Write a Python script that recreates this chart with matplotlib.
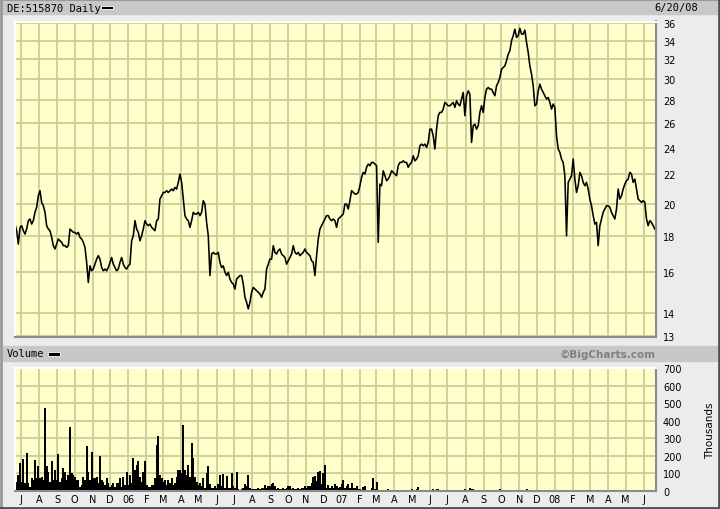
import numpy as np
import pandas as pd
import matplotlib
matplotlib.use('Agg')
import matplotlib.pyplot as plt
from matplotlib.patches import Rectangle
from matplotlib.lines import Line2D

# header info
symbol_text = 'DE:515870 Daily'
last_date = '6/20/08'
first_day = '2005-06-21'
last_day = '2008-06-20'

# closing prices, roughly every 3 calendar days
price_a = [18.71, 18.31, 17.53, 18.51, 18.61, 18.31, 18.11, 18.41, 18.92, 19.02,
           18.71, 18.92, 19.44, 19.76, 20.52, 20.86, 20.08, 19.86, 19.44, 18.61,
           18.41, 18.31, 17.92, 17.44, 17.25, 17.53, 17.82, 17.72, 17.63, 17.44,
           17.44, 17.34, 17.44, 18.41, 18.31, 18.21, 18.21, 18.11, 18.21, 17.92,
           17.82, 17.63, 17.34, 16.51, 15.47, 16.33, 16.07, 16.16, 16.42, 16.69,
           16.88, 16.69, 16.24, 16.07, 16.16, 16.07, 16.24, 16.51, 16.78, 16.42,
           16.24, 16.07, 16.16, 16.51, 16.78, 16.42, 16.24, 16.16, 16.33, 16.42,
           17.72, 18.01, 18.92, 18.41, 18.21, 17.72, 18.01, 18.41, 18.92, 18.71,
           18.61, 18.71, 18.51, 18.41, 18.31, 18.92, 19.02, 20.30, 20.52, 20.74,
           20.74, 20.86, 20.74, 20.86, 20.97, 20.86, 21.08, 20.97, 21.43, 22.02,
           21.43, 20.30, 19.23, 19.02, 18.92, 18.51, 18.92, 19.44, 19.33, 19.33,
           19.44, 19.23, 19.44, 20.19, 19.97, 18.81, 18.01, 15.82, 16.97, 17.06,
           16.97, 16.97, 17.06, 16.51, 16.24, 16.33, 15.99, 15.82, 15.99, 15.64,
           15.47, 15.39, 15.14, 15.64, 15.73]
price_b = [15.82, 15.82, 15.39, 14.74, 14.50, 14.19, 14.50, 14.98, 15.22, 15.14,
           15.06, 14.98, 14.90, 14.74, 14.98, 15.14, 16.16, 16.42, 16.69, 16.69,
           17.44, 17.06, 16.97, 17.16, 17.25, 16.97, 16.88, 16.78, 16.42, 16.60,
           16.78, 16.97, 17.44, 17.06, 16.97, 17.06, 16.88, 16.97, 17.06, 17.25,
           17.06, 16.97, 16.88, 16.60, 16.51, 15.82, 16.88, 17.82, 18.41, 18.61,
           18.81, 19.02, 19.23, 19.23, 19.02, 18.92, 19.02, 18.92, 18.51, 19.02,
           19.12, 19.23, 19.33, 19.97, 19.97, 19.65, 20.19, 20.86, 20.74, 20.63,
           20.63, 20.74, 21.20, 21.78, 22.14, 22.02, 22.51, 22.75, 22.63, 22.87,
           22.87, 22.75, 22.63, 17.63, 21.31, 21.20, 22.26, 21.90, 21.55, 21.66,
           21.90, 22.26, 22.14, 22.02, 21.90, 22.63]
price_c = [22.87, 22.87, 22.99, 22.87, 22.87, 22.51, 22.75, 22.87, 23.37, 22.99,
           23.12, 23.37, 24.15, 24.28, 24.15, 24.28, 24.02, 24.41, 25.49, 25.49,
           24.94, 23.89, 25.49, 26.63, 26.92, 26.92, 27.21, 27.81, 27.66, 27.51,
           27.51, 27.66, 27.81, 27.36, 27.96, 27.66, 27.51, 28.11, 28.73, 26.63,
           28.42, 28.88, 28.57, 24.41, 25.77, 25.91, 25.49, 25.77, 26.92, 27.51,
           26.92, 28.26, 29.04, 29.20, 29.04, 29.04, 28.73, 28.42, 29.36, 29.68,
           30.16, 30.99, 31.16, 31.33, 31.85, 32.55, 32.91, 34.00, 34.56, 35.30,
           34.37, 34.56, 35.40, 34.74, 34.74, 35.20, 33.82, 32.73, 31.33, 30.49,
           29.36, 27.51, 27.66, 28.88, 29.52, 29.04, 28.73, 28.42, 28.11, 28.26,
           27.81, 27.21, 27.66, 27.36, 24.94, 23.89]
price_d = [23.63, 23.12, 22.87, 21.90, 18.01, 21.43, 21.66, 21.90, 23.12, 21.66,
           20.74, 21.20, 22.14, 21.90, 21.43, 21.20, 21.43, 20.97, 20.30, 19.86,
           19.23, 18.71, 18.81, 17.44, 18.61, 19.02, 19.44, 19.65, 19.86, 19.86,
           19.76, 19.44, 19.23, 19.02, 19.65, 20.97, 20.30, 20.52, 20.97, 21.31,
           21.55, 21.66, 22.14, 22.02, 21.43, 21.66, 20.97, 20.30, 20.19, 20.08,
           20.19, 20.08, 19.02, 18.61, 18.92, 18.81, 18.61, 18.41]

# volume in thousands, same sampling
vol_a = [63, 54, 92, 159, 54, 184, 44, 216, 44, 25,
         73, 63, 178, 73, 140, 73, 82, 63, 475, 144,
         111, 54, 169, 63, 121, 63, 213, 54, 73, 130,
         111, 63, 92, 366, 102, 92, 82, 63, 63, 25,
         34, 82, 63, 259, 111, 63, 222, 73, 73, 82,
         44, 197, 63, 54, 34, 73, 44, 25, 34, 44,
         25, 44, 44, 73, 25, 82, 34, 111, 34, 92,
         44, 188, 121, 149, 169, 82, 54, 111, 169, 34,
         25, 25, 34, 34, 73, 264, 312, 92, 73, 54,
         63, 34, 63, 44, 73, 34, 44, 82, 121, 121,
         102, 375, 121, 92, 149, 82, 274, 188, 82, 54,
         34, 44]
vol_b = [29, 77, 19, 105, 140, 38, 19, 19, 29, 19,
         38, 90, 29, 96, 19, 86, 19, 19, 105, 29,
         19, 111, 10, 6, 10, 19, 38, 29, 90, 19,
         10, 13, 10, 10, 19, 10, 19, 19, 33, 19,
         29, 29, 38, 48, 29, 10, 19, 10, 13, 19,
         10, 19, 29, 29, 10, 19, 13, 10, 19, 13,
         19, 19, 29, 19, 29, 29, 48, 82, 86, 57,
         109, 115, 38, 105, 148, 19, 33, 19, 29, 19,
         38, 29, 19, 25, 38, 63, 19, 29, 38, 19,
         44, 19, 19, 29, 13]
vol_c = [10, 8, 25, 30, 8, 6, 5, 15, 77, 10, 54, 8, 4,
         3, 6, 8, 6, 10, 5, 3, 8, 6, 4, 6, 5, 3, 6, 8, 4, 6, 5,
         10, 8, 6, 10, 22, 6, 4, 3, 5, 4, 3, 6, 8, 12, 8, 10, 14, 8, 6, 4,
         3, 5, 6, 8, 5, 4, 6, 8, 4, 6, 8, 6, 10, 5, 8, 18, 14, 10, 8, 6,
         6, 4, 3, 2, 0, 2, 3, 2, 2, 0, 3, 5, 6, 10, 6, 3, 2, 5, 4, 5,
         6, 4, 5, 6, 4, 5, 3, 2, 3, 10, 8, 6, 8, 5, 6, 4, 2, 0, 0, 2,
         0, 0, 2, 0, 0, 3, 4, 2, 5, 3, 6, 4, 8, 5, 0, 0, 0, 0, 0, 0,
         0, 0, 0, 0, 2, 0, 0, 0, 4, 6, 0, 0, 0, 0, 0, 2, 0, 5, 0, 0,
         0, 0, 2, 0, 0, 0, 0, 0, 3, 5, 0, 0, 4, 6, 2, 0, 0, 0, 0, 3,
         0, 4, 0, 2, 0, 0, 3]

price_ticks = [13, 14, 16, 18, 20, 22, 24, 26, 28, 30, 32, 34, 36]
volume_ticks = [0, 100, 200, 300, 400, 500, 600, 700]

price = np.array(price_a + price_b + price_c + price_d)
volume = np.array(vol_a + vol_b + vol_c)
dates = pd.date_range(first_day, last_day, periods=len(price))

months = pd.date_range('2005-07-01', '2008-06-01', freq='MS')
month_labels = [d.strftime('%y') if d.month == 1 else d.strftime('%b')[0] for d in months]

W, H = 720, 510
BG = '#ECECEC'
BAR = '#C8C8C8'
PANEL = '#FFFFCC'
GRID = '#CDCD96'


def box(x0, y0, x1, y1):
    # pixel box (from top-left) -> figure fraction
    return [x0 / W, 1 - y1 / H, (x1 - x0) / W, (y1 - y0) / H]


fig = plt.figure(figsize=(7.2, 5.1), dpi=100)
fig.patch.set_facecolor(BG)

# header bars
for y0, y1 in [(1.5, 15), (347, 361.5)]:
    fig.add_artist(Rectangle((2 / W, 1 - y1 / H), 715 / W, (y1 - y0) / H,
                             transform=fig.transFigure, color=BAR, zorder=0))
# outer frame
fig.add_artist(Line2D([0.5 / W, 0.5 / W], [0, 1], transform=fig.transFigure, color='#9A9A9A', lw=2))
fig.add_artist(Line2D([0, 1], [1 - 0.5 / H, 1 - 0.5 / H], transform=fig.transFigure, color='#9A9A9A', lw=1.5))
fig.add_artist(Line2D([1 - 1.5 / W, 1 - 1.5 / W], [0, 1], transform=fig.transFigure, color='#505050', lw=2))
fig.add_artist(Line2D([0, 1], [1.5 / H, 1.5 / H], transform=fig.transFigure, color='#505050', lw=2))

mono = 'DejaVu Sans Mono'
fig.text(7 / W, 1 - 8.5 / H, symbol_text, family=mono, size=7.5, va='center', ha='left')
fig.add_artist(Rectangle((101 / W, 1 - 10 / H), 12 / W, 3.5 / H, transform=fig.transFigure,
                         facecolor='black', edgecolor='white', lw=0.6))
fig.text(698 / W, 1 - 8.5 / H, last_date, family=mono, size=7.5, va='center', ha='right')
fig.text(7 / W, 1 - 354.5 / H, 'Volume', family=mono, size=7.5, va='center', ha='left')
fig.add_artist(Rectangle((48 / W, 1 - 356.5 / H), 12 / W, 3.5 / H, transform=fig.transFigure,
                         facecolor='black', edgecolor='white', lw=0.6))
fig.text(656 / W, 1 - 354.5 / H, '\u00a9BigCharts.com', family='DejaVu Sans', weight='bold',
         size=7.5, color='#808080', va='center', ha='right')
fig.text(710 / W, 1 - 431 / H, 'Thousands', family='DejaVu Sans', size=7.5,
         rotation=90, va='center', ha='center')

ax = fig.add_axes(box(15, 22.5, 656, 338))
axv = fig.add_axes(box(15, 368.5, 656, 492))

x0 = pd.Timestamp('2005-06-21')
x1 = pd.Timestamp('2008-06-22')

for a in (ax, axv):
    a.set_facecolor(PANEL)
    a.set_axisbelow(True)
    a.set_xlim(x0, x1)
    a.set_xticks(months)
    a.grid(True, color=GRID, lw=1.3)
    a.yaxis.tick_right()
    a.tick_params(axis='both', length=0, labelsize=7)
    a.tick_params(axis='y', pad=5)
    for s in ('left', 'top'):
        a.spines[s].set_color('white')
        a.spines[s].set_linewidth(1.5)
    for s in ('right', 'bottom'):
        a.spines[s].set_color('#8C8C8C')
        a.spines[s].set_linewidth(1.5)

# price panel
ax.plot(dates, price, color='black', lw=1.15)
ax.set_yscale('log')
ax.set_ylim(12.95, 36.2)
ax.yaxis.set_minor_locator(plt.NullLocator())
ax.yaxis.set_minor_formatter(plt.NullFormatter())
ax.set_yticks(price_ticks)
ax.set_yticklabels([str(t) for t in price_ticks])
ax.tick_params(axis='x', labelbottom=False)

# volume panel
axv.vlines(dates, 0, volume, color='black', lw=1.4, antialiased=False)
axv.set_ylim(0, 705)
axv.set_yticks(volume_ticks)
axv.set_yticklabels([str(t) for t in volume_ticks])
axv.set_xticklabels(month_labels)
axv.tick_params(axis='x', pad=2)

fig.savefig('out.png', dpi=100, facecolor=BG)
